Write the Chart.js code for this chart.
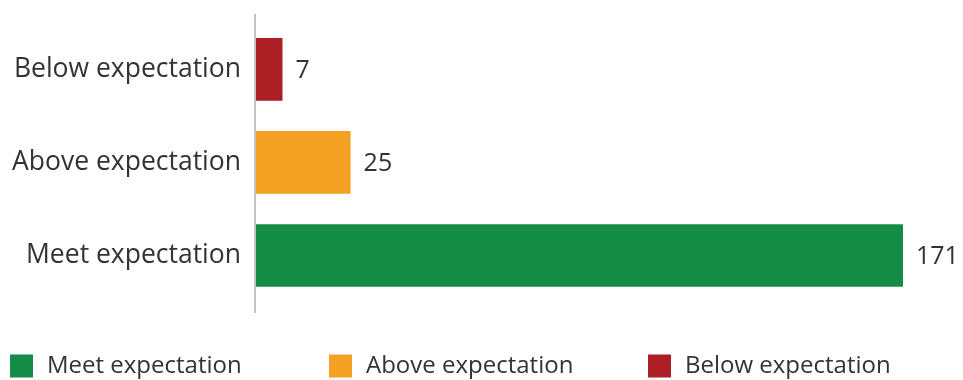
<!DOCTYPE html>
<html>
<head>
<meta charset="utf-8">
<script src="https://cdn.jsdelivr.net/npm/chart.js@4"></script>
<style>
  html, body { margin: 0; padding: 0; background: #fff; }
  #wrap { width: 963px; height: 380px; }
</style>
</head>
<body>
<div id="wrap"><canvas id="c" width="963" height="380"></canvas></div>
<script>
// Ratings, listed top to bottom as drawn
const categories = ['Below expectation', 'Above expectation', 'Meet expectation'];
const counts = [7, 25, 171];
const barColors = ['#AB1E24', '#F4A023', '#148C45'];
// Legend order
const legendOrder = ['Meet expectation', 'Above expectation', 'Below expectation'];

const FONT = "'Open Sans', 'Noto Sans', sans-serif";
const TEXT = '#333333';

// Value labels at the end of each bar
const valueLabels = {
  id: 'valueLabels',
  afterDatasetsDraw(chart) {
    const ctx = chart.ctx;
    const meta = chart.getDatasetMeta(0);
    ctx.save();
    ctx.font = '25px ' + FONT;
    ctx.fillStyle = TEXT;
    ctx.textAlign = 'left';
    ctx.textBaseline = 'middle';
    meta.data.forEach((bar, i) => {
      ctx.fillText(String(counts[i]), bar.x + 13, bar.y + 1);
    });
    ctx.restore();
  }
};

// Vertical baseline at zero, running a little past the plot area
const baseline = {
  id: 'baseline',
  afterDatasetsDraw(chart) {
    const ctx = chart.ctx;
    const x = chart.scales.x.getPixelForValue(0);
    ctx.save();
    ctx.strokeStyle = '#C4C4C4';
    ctx.lineWidth = 2;
    ctx.beginPath();
    ctx.moveTo(x - 1, chart.chartArea.top - 9);
    ctx.lineTo(x - 1, chart.chartArea.bottom + 11);
    ctx.stroke();
    ctx.restore();
  }
};

// Legend row along the bottom, evenly spaced
const bottomLegend = {
  id: 'bottomLegend',
  afterDraw(chart) {
    const ctx = chart.ctx;
    const step = 319;
    const x0 = 10;
    const yMid = 366;
    const box = 23;
    ctx.save();
    ctx.font = '24px ' + FONT;
    ctx.textBaseline = 'middle';
    ctx.textAlign = 'left';
    legendOrder.forEach((name, i) => {
      const idx = categories.indexOf(name);
      const x = x0 + i * step;
      ctx.fillStyle = barColors[idx];
      ctx.fillRect(x, yMid - box / 2, box, box);
      ctx.fillStyle = TEXT;
      ctx.fillText(name, x + box + 14, yMid);
    });
    ctx.restore();
  }
};

new Chart(document.getElementById('c'), {
  type: 'bar',
  data: {
    labels: categories,
    datasets: [{
      data: counts,
      backgroundColor: barColors,
      borderWidth: 0,
      barPercentage: 0.674,
      categoryPercentage: 1.0
    }]
  },
  options: {
    indexAxis: 'y',
    responsive: false,
    animation: false,
    devicePixelRatio: 1,
    layout: { padding: { top: 13.5, right: 60, bottom: 78, left: 0 } },
    plugins: {
      legend: { display: false },
      tooltip: { enabled: false }
    },
    scales: {
      x: {
        display: false,
        min: 0,
        max: Math.max(...counts)
      },
      y: {
        afterFit(scale) { scale.width = 256; },
        grid: { display: false },
        border: { display: false },
        ticks: {
          padding: 7,
          color: TEXT,
          font: { family: FONT, size: 26.5 }
        }
      }
    }
  },
  plugins: [valueLabels, baseline, bottomLegend]
});
</script>
</body>
</html>
